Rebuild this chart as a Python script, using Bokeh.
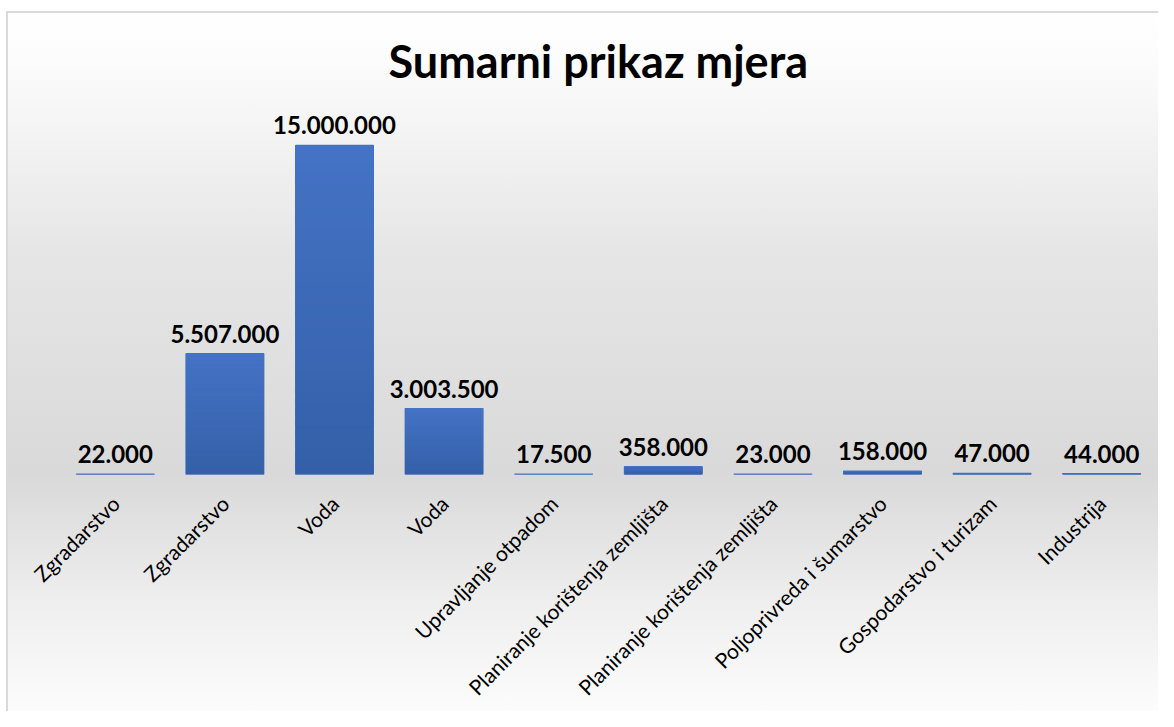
import math
from bokeh.plotting import figure
from bokeh.models import Range1d, FixedTicker, ColumnDataSource
from bokeh.core.properties import value
from bokeh.embed import file_html
from bokeh.resources import INLINE

# ---- data ----
categories = [
    "Zgradarstvo",
    "Zgradarstvo",
    "Voda",
    "Voda",
    "Upravljanje otpadom",
    "Planiranje korištenja zemljišta",
    "Planiranje korištenja zemljišta",
    "Poljoprivreda i šumarstvo",
    "Gospodarstvo i turizam",
    "Industrija",
]
values = [22000, 5507000, 15000000, 3003500, 17500, 358000, 23000, 158000, 47000, 44000]
title_text = "Sumarni prikaz mjera"

# ---- styling helpers ----
def hex_to_rgb(h):
    h = h.lstrip("#")
    return tuple(int(h[i:i + 2], 16) for i in (0, 2, 4))

def mix(c1, c2, t):
    a, b = hex_to_rgb(c1), hex_to_rgb(c2)
    return "#%02x%02x%02x" % tuple(round(a[i] + (b[i] - a[i]) * t) for i in range(3))

BAR_BOTTOM = "#345fa8"
BAR_TOP = "#4472c4"
N_BANDS = 30
FONT = "Lato"

xs = list(range(len(categories)))
labels = [f"{v:,}".replace(",", ".") for v in values]

p = figure(
    width=1158, height=711,
    output_backend="svg", toolbar_location=None, tools="",
    x_range=Range1d(-0.5, len(categories) - 0.5),
    y_range=Range1d(0, 17_050_000),
    min_border_left=60, min_border_right=2,
    min_border_top=100, min_border_bottom=237,
)
p.styles = {
    "background": (
        "linear-gradient(#ffffff,#ffffff) 0 0 / 6px 100% no-repeat, "
        "linear-gradient(#d9d9d9,#d9d9d9) 6px 11px / 100% 2px no-repeat, "
        "linear-gradient(#d9d9d9,#d9d9d9) 6px 11px / 2px 100% no-repeat, "
        "linear-gradient(to bottom, #ffffff 0px, #ffffff 12px, #fcfcfc 60px, "
        "#e6e6e6 250px, #d9d9d9 474px, #eeeeee 600px, #fcfcfc 711px)"
    ),
}
p.border_fill_alpha = 0
p.background_fill_alpha = 0
p.outline_line_color = None
p.grid.visible = False

p.title.text = title_text
p.title.align = "left"
p.title.offset = 328
p.title.text_font = FONT
p.title.text_font_size = "45px"
p.title.text_font_style = "bold"
p.title.text_color = "#000000"
p.title.standoff = 26

# base bar (gives a visible hairline for very small values)
p.vbar(x=xs, top=values, width=0.71, fill_color=BAR_BOTTOM,
       line_color="#4472c4", line_width=1.2)

# vertical gradient: overlapping bands computed from each value
bx, bb, bt, bc = [], [], [], []
for x, v in zip(xs, values):
    for k in range(N_BANDS):
        bx.append(x)
        bb.append(max(0.0, v * (k - 0.6) / N_BANDS))
        bt.append(v * (k + 1) / N_BANDS)
        bc.append(mix(BAR_BOTTOM, BAR_TOP, (k + 0.5) / N_BANDS))
bars = ColumnDataSource(dict(x=bx, bottom=bb, top=bt, color=bc))
p.vbar(x="x", bottom="bottom", top="top", width=0.71, source=bars,
       fill_color="color", line_color=None)

src = ColumnDataSource(dict(x=xs, y=values, label=labels))
p.text(x="x", y="y", text="label", source=src,
       text_align="center", text_baseline="bottom", y_offset=-11,
       text_font=value(FONT), text_font_style="bold",
       text_font_size="24px", text_color="#000000")

p.yaxis.visible = False
ax = p.xaxis[0]
ax.ticker = FixedTicker(ticks=xs)
ax.major_label_overrides = {i: c for i, c in enumerate(categories)}
ax.major_label_orientation = math.pi / 4
ax.major_label_standoff = 19
ax.major_label_text_font = FONT
ax.major_label_text_font_size = "21px"
ax.major_label_text_color = "#000000"
ax.axis_line_color = None
ax.major_tick_line_color = None
ax.minor_tick_line_color = None

open("out.html", "w").write(file_html(p, INLINE))
